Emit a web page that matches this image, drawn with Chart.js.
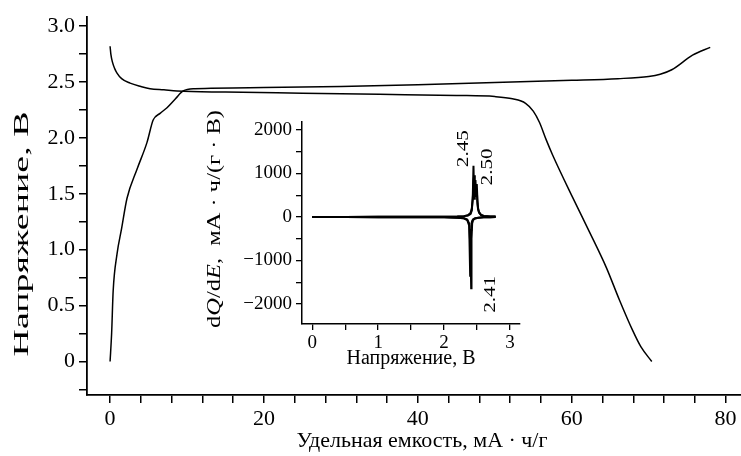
<!DOCTYPE html>
<html>
<head>
<meta charset="utf-8">
<script src="https://cdn.jsdelivr.net/npm/chart.js@4.4.1/dist/chart.umd.min.js"></script>
<style>
html, body { margin: 0; padding: 0; background: #fff; }
#wrap { position: relative; width: 741px; height: 456px; }
#mainChart { position: absolute; left: 0; top: 0; }
#insetChart { position: absolute; left: 200px; top: 100px; }
</style>
</head>
<body>
<div id="wrap">
<canvas id="mainChart" width="741" height="456"></canvas>
<canvas id="insetChart" width="330" height="275"></canvas>
</div>
<script>
// main plot: voltage vs specific capacity
var chargeCapacity = [0, 0.2, 0.4, 0.9, 1.5, 2.2, 3.5, 4.8, 5.6, 6.5, 7.4, 8.5, 9.5, 11, 20, 30, 40, 50, 60, 66, 70, 71.5, 73, 75.7, 78];
var chargeVoltage = [0, 0.25, 0.63, 0.96, 1.19, 1.46, 1.72, 1.96, 2.16, 2.22, 2.27, 2.35, 2.42, 2.44, 2.45, 2.46, 2.475, 2.495, 2.515, 2.53, 2.55, 2.57, 2.61, 2.74, 2.81];

var dischargeCapacity = [0, 0.1, 0.3, 0.6, 0.9, 1.5, 2.6, 4, 5.2, 7, 8.7, 15, 25, 35, 45, 50, 52.3, 54, 55, 55.8, 56.7, 57.5, 60.1, 62.3, 64.5, 66.2, 67.9, 69, 70.4];
var dischargeVoltage = [2.82, 2.75, 2.68, 2.62, 2.58, 2.53, 2.49, 2.46, 2.44, 2.43, 2.42, 2.41, 2.40, 2.39, 2.38, 2.37, 2.35, 2.31, 2.24, 2.14, 1.98, 1.85, 1.47, 1.16, 0.84, 0.55, 0.28, 0.13, 0];

var mainXTicks = [0, 20, 40, 60, 80];
var mainYTicks = [0, 0.5, 1, 1.5, 2, 2.5, 3];
var mainYTickLabels = ['0', '0.5', '1.0', '1.5', '2.0', '2.5', '3.0'];

// inset: dQ/dE vs voltage
var posVoltage = [0, 0.5, 1.0, 1.5, 2.0, 2.2, 2.3, 2.36, 2.40, 2.42, 2.435, 2.445, 2.455, 2.465, 2.475, 2.485, 2.495, 2.505, 2.515, 2.53, 2.56, 2.60, 2.70, 2.78];
var posCycle1 = [0, 2, 3, 5, 8, 12, 20, 35, 70, 150, 500, 1180, 420, 620, 850, 480, 760, 380, 200, 110, 50, 25, 12, 10];
var posCycle2 = [0, 2, 3, 5, 8, 12, 20, 40, 90, 200, 420, 820, 960, 540, 700, 620, 640, 300, 170, 100, 45, 22, 12, 10];

var negVoltage = [0, 0.5, 1.0, 1.5, 2.0, 2.2, 2.3, 2.35, 2.38, 2.395, 2.405, 2.41, 2.415, 2.425, 2.44, 2.47, 2.52, 2.60, 2.70, 2.78];
var negCycle1 = [0, -2, -3, -5, -8, -15, -30, -60, -150, -600, -1200, -1640, -500, -150, -70, -35, -18, -8, -4, 0];
var negCycle2 = [0, -2, -3, -5, -8, -15, -30, -70, -200, -1350, -700, -300, -150, -90, -50, -30, -15, -8, -4, 0];

var insetXTicks = [0, 1, 2, 3];
var insetYTicks = [-2000, -1000, 0, 1000, 2000];
var insetYTickLabels = ['\u22122000', '\u22121000', '0', '1000', '2000'];

var peakLabels = ['2.45', '2.50', '2.41'];
var peakVoltage = [2.45, 2.50, 2.41];
var peakValue = [1180, 760, -1640];

Chart.defaults.font.family = '"Liberation Serif", "DejaVu Serif", serif';
Chart.defaults.color = '#000';

function pairs(xs, ys) {
    return xs.map(function (x, i) { return { x: x, y: ys[i] }; });
}

function stepTicks(from, to, step) {
    var out = [];
    for (var v = from; v <= to + 1e-9; v += step) out.push({ value: Math.round(v * 1000) / 1000 });
    return out;
}

function findLabel(values, labels, v) {
    for (var i = 0; i < values.length; i++) {
        if (Math.abs(values[i] - v) < 1e-6) return labels[i];
    }
    return '';
}

// text drawn centred at (cx, cy); rotated texts are stretched to a given length
function drawText(ctx, parts, cx, cy, length, rotated) {
    ctx.save();
    ctx.fillStyle = '#000';
    ctx.textBaseline = 'middle';
    ctx.textAlign = 'left';
    var total = 0;
    parts.forEach(function (p) { ctx.font = p.f; total += ctx.measureText(p.t).width; });
    ctx.translate(cx, cy);
    if (rotated) ctx.rotate(-Math.PI / 2);
    if (length) ctx.scale(length / total, 1);
    var x = -total / 2;
    parts.forEach(function (p) {
        ctx.font = p.f;
        ctx.fillText(p.t, x, 0);
        x += ctx.measureText(p.t).width;
    });
    ctx.restore();
}

var serif = '"Liberation Serif", serif';

var axisGrid = { drawOnChartArea: false, drawTicks: true, tickLength: 8, color: '#000', lineWidth: 1.5 };
var axisBorder = { display: true, color: '#000', width: 1.8 };

var mainTitles = {
    id: 'mainTitles',
    afterDraw: function (chart) {
        drawText(chart.ctx, [{ t: 'Напряжение, В', f: '22px ' + serif }], 22, 234, 245, true);
        drawText(chart.ctx, [{ t: 'Удельная емкость, мА · ч/г', f: '22px ' + serif }], 422, 441, 251, false);
    }
};

new Chart(document.getElementById('mainChart'), {
    type: 'line',
    data: {
        datasets: [{
            label: 'charge',
            data: pairs(chargeCapacity, chargeVoltage),
            borderColor: '#000',
            borderWidth: 1.5,
            pointRadius: 0,
            cubicInterpolationMode: 'monotone'
        }, {
            label: 'discharge',
            data: pairs(dischargeCapacity, dischargeVoltage),
            borderColor: '#000',
            borderWidth: 1.5,
            pointRadius: 0,
            cubicInterpolationMode: 'monotone'
        }]
    },
    options: {
        responsive: false,
        animation: false,
        devicePixelRatio: 1,
        layout: { padding: { top: 14, right: -3, left: 0, bottom: 0 } },
        plugins: { legend: { display: false }, tooltip: { enabled: false } },
        scales: {
            x: {
                type: 'linear',
                min: -3,
                max: 82,
                grid: axisGrid,
                border: axisBorder,
                afterBuildTicks: function (scale) { scale.ticks = stepTicks(0, 80, 4); },
                afterFit: function (scale) { scale.height = 61; },
                ticks: {
                    autoSkip: false,
                    maxRotation: 0,
                    padding: 3,
                    font: { size: 22 },
                    callback: function (v) { return mainXTicks.indexOf(v) >= 0 ? String(v) : ''; }
                }
            },
            y: {
                type: 'linear',
                min: -0.30,
                max: 3.08,
                grid: axisGrid,
                border: axisBorder,
                afterBuildTicks: function (scale) { scale.ticks = stepTicks(-0.25, 3, 0.25); },
                afterFit: function (scale) { scale.width = 87; },
                ticks: {
                    autoSkip: false,
                    padding: 4,
                    font: { size: 22 },
                    callback: function (v) { return findLabel(mainYTicks, mainYTickLabels, v); }
                }
            }
        }
    },
    plugins: [mainTitles]
});

var insetTitles = {
    id: 'insetTitles',
    afterDraw: function (chart) {
        var ctx = chart.ctx;
        var f = '19px ' + serif, fi = 'italic 19px ' + serif;
        drawText(ctx, [
            { t: 'd', f: f }, { t: 'Q', f: fi }, { t: '/d', f: f }, { t: 'E', f: fi },
            { t: ',  мА · ч/(г · В)', f: f }
        ], 15, 119, 218, true);
        var offsets = [[-10, -17], [10, -17], [19, 6]];
        for (var i = 0; i < peakLabels.length; i++) {
            var px = chart.scales.x.getPixelForValue(peakVoltage[i]) + offsets[i][0];
            var py = chart.scales.y.getPixelForValue(peakValue[i]) + offsets[i][1];
            drawText(ctx, [{ t: peakLabels[i], f: '17px ' + serif }], px, py, 37, true);
        }
    }
};

function insetSet(xs, ys) {
    return {
        data: pairs(xs, ys),
        borderColor: '#000',
        borderWidth: 2,
        pointRadius: 0,
        tension: 0
    };
}

new Chart(document.getElementById('insetChart'), {
    type: 'line',
    data: {
        datasets: [
            insetSet(posVoltage, posCycle1),
            insetSet(posVoltage, posCycle2),
            insetSet(negVoltage, negCycle1),
            insetSet(negVoltage, negCycle2)
        ]
    },
    options: {
        responsive: false,
        animation: false,
        devicePixelRatio: 1,
        layout: { padding: { top: 22, right: 10, left: 0, bottom: 0 } },
        plugins: { legend: { display: false }, tooltip: { enabled: false } },
        scales: {
            x: {
                type: 'linear',
                min: -0.154,
                max: 3.15,
                grid: { drawOnChartArea: false, drawTicks: true, tickLength: 6, color: '#000', lineWidth: 1.3 },
                border: { display: true, color: '#000', width: 1.5 },
                afterBuildTicks: function (scale) { scale.ticks = stepTicks(0, 3, 0.5); },
                afterFit: function (scale) { scale.height = 51; },
                ticks: {
                    autoSkip: false,
                    maxRotation: 0,
                    padding: 2,
                    font: { size: 19 },
                    callback: function (v) { return insetXTicks.indexOf(v) >= 0 ? String(v) : ''; }
                },
                title: {
                    display: true,
                    text: 'Напряжение, В',
                    font: { size: 20 },
                    padding: { top: 0, bottom: 4 }
                }
            },
            y: {
                type: 'linear',
                min: -2460,
                max: 2184,
                grid: { drawOnChartArea: false, drawTicks: true, tickLength: 6, color: '#000', lineWidth: 1.3 },
                border: { display: true, color: '#000', width: 1.5 },
                afterBuildTicks: function (scale) { scale.ticks = stepTicks(-2000, 2000, 500); },
                afterFit: function (scale) { scale.width = 102; },
                ticks: {
                    autoSkip: false,
                    padding: 4,
                    font: { size: 19 },
                    callback: function (v) { return findLabel(insetYTicks, insetYTickLabels, v); }
                }
            }
        }
    },
    plugins: [insetTitles]
});
</script>
</body>
</html>
